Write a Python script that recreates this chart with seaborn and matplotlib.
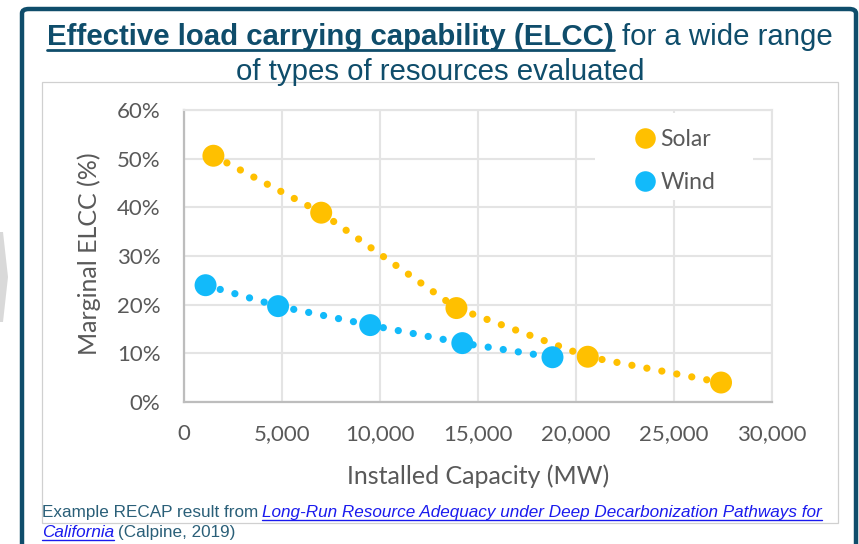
import matplotlib
matplotlib.use("Agg")
import matplotlib.pyplot as plt
import seaborn as sns
import pandas as pd
from matplotlib.patches import Rectangle, FancyBboxPatch, Polygon
from matplotlib.lines import Line2D

# ---------------- data ----------------
series_names = ["Solar", "Wind"]
solar_mw = [1500, 7000, 13900, 20600, 27400]
solar_elcc = [0.506, 0.389, 0.193, 0.093, 0.040]
wind_mw = [1100, 4800, 9500, 14200, 18800]
wind_elcc = [0.240, 0.197, 0.158, 0.121, 0.092]
x_ticks = [0, 5000, 10000, 15000, 20000, 25000, 30000]
y_ticks = [0.0, 0.1, 0.2, 0.3, 0.4, 0.5, 0.6]

title_bold = "Effective load carrying capability (ELCC)"
title_rest = "for a wide range"
title_line2 = "of types of resources evaluated"
x_label = "Installed Capacity (MW)"
y_label = "Marginal ELCC (%)"
foot_a = "Example RECAP result from"
foot_link1 = "Long-Run Resource Adequacy under Deep Decarbonization Pathways for"
foot_link2 = "California"
foot_b = "(Calpine, 2019)"

colors = {"Solar": "#FFC000", "Wind": "#12BAFA"}
TEAL = "#0f4d6b"
GREY = "#595959"

df = pd.DataFrame({
    "mw": solar_mw + wind_mw,
    "elcc": solar_elcc + wind_elcc,
    "type": ["Solar"] * len(solar_mw) + ["Wind"] * len(wind_mw),
})

W, H = 859, 544
sns.set_style("white")
plt.rcParams["font.family"] = ["Lato", "DejaVu Sans"]

fig = plt.figure(figsize=(W / 100, H / 100), dpi=100)


def fx(x):
    return x / W


def fy(y):
    return 1 - y / H


# ---------------- slide decoration ----------------
fig.add_artist(Polygon([(fx(0), fy(232)), (fx(3), fy(232)), (fx(8), fy(277)),
                        (fx(3), fy(322)), (fx(0), fy(322))],
                       closed=True, facecolor="#d9d9d9", edgecolor="none",
                       transform=fig.transFigure))
fig.add_artist(FancyBboxPatch((fx(22), fy(600)), fx(856) - fx(22), fy(9) - fy(600),
                              boxstyle="round,pad=0,rounding_size=0.008",
                              facecolor="none", edgecolor=TEAL, lw=3.2,
                              transform=fig.transFigure))
fig.add_artist(Rectangle((fx(42), fy(523)), fx(838) - fx(42), fy(82) - fy(523),
                         facecolor="none", edgecolor="#d0d0d0", lw=0.9,
                         transform=fig.transFigure))

# ---------------- chart ----------------
ax = fig.add_axes([fx(184), fy(402), (772 - 184) / W, (402 - 110) / H])
sns.lineplot(data=df, x="mw", y="elcc", hue="type", palette=colors, sort=False,
             legend=False, lw=5.2, ax=ax, zorder=2)
for ln in ax.lines:
    ln.set_linestyle((0, (0.01, 2.1)))
    ln.set_dash_capstyle("round")
sns.scatterplot(data=df, x="mw", y="elcc", hue="type", palette=colors, s=250,
                linewidth=0, legend=False, ax=ax, zorder=3)

ax.set_xlim(x_ticks[0], x_ticks[-1])
ax.set_ylim(y_ticks[0], y_ticks[-1])
ax.set_xticks(x_ticks)
ax.set_xticklabels([f"{v:,}" for v in x_ticks])
ax.set_yticks(y_ticks)
ax.set_yticklabels([f"{round(v * 100)}%" for v in y_ticks])
ax.tick_params(length=0, labelsize=16, labelcolor=GREY)
ax.tick_params(axis="x", pad=16)
ax.tick_params(axis="y", pad=17)
ax.grid(True, color="#e4e4e4", lw=1.5)
ax.set_axisbelow(True)
for side in ["top", "right"]:
    ax.spines[side].set_color("#e4e4e4")
    ax.spines[side].set_linewidth(1.5)
for side in ["left", "bottom"]:
    ax.spines[side].set_color("#bdbdbd")
    ax.spines[side].set_linewidth(1.6)

ax.set_xlabel(x_label, fontsize=18, color=GREY)
ax.set_ylabel(y_label, fontsize=18, color=GREY)
ax.xaxis.set_label_coords(0.5, (402 - 464) / 292)
ax.yaxis.set_label_coords((101 - 184) / 588, (402 - 254) / 292)

# legend with white box
ax.add_patch(Rectangle(((595 - 184) / 588, (402 - 200) / 292), (753 - 595) / 588,
                       (200 - 113) / 292, transform=ax.transAxes,
                       facecolor="white", edgecolor="none", zorder=1.5))
handles = [Line2D([], [], ls="", marker="o", ms=14.8, mew=0, color=colors[n])
           for n in series_names]
ax.legend(handles, series_names, loc="upper left",
          bbox_to_anchor=((634 - 184) / 588, (402 - 129) / 292),
          frameon=False, borderpad=0, borderaxespad=0, handlelength=1.0,
          handletextpad=0.15, labelspacing=0.95, fontsize=16.5, labelcolor=GREY)

# ---------------- rich text helper ----------------
renderer = fig.canvas.get_renderer()


def rich_line(pieces, x, y, align="left", ul_off=4, ul_lw=1.5):
    placed = []
    cur = x
    for s, kw, ul, gap in pieces:
        t = fig.text(fx(cur), fy(y), s, va="baseline", ha="left", **kw)
        w = t.get_window_extent(renderer=renderer).width
        placed.append((t, cur, w, ul, kw))
        cur += w + gap
    total = cur - x
    shift = -total / 2 if align == "center" else 0
    for t, x0, w, ul, kw in placed:
        t.set_x(fx(x0 + shift))
        if ul:
            fig.add_artist(Line2D([fx(x0 + shift), fx(x0 + shift + w)],
                                  [fy(y + ul_off)] * 2, color=kw.get("color", "k"),
                                  lw=ul_lw, transform=fig.transFigure))


NARROW = ["Liberation Sans Narrow", "Liberation Sans", "DejaVu Sans"]
tkw_b = dict(fontsize=21.2, fontweight="bold", color=TEAL, family=NARROW)
tkw_r = dict(fontsize=21.2, color=TEAL, family=NARROW)
rich_line([(title_bold, tkw_b, True, 9), (title_rest, tkw_r, False, 0)],
          440, 45, align="center", ul_off=4.5, ul_lw=2)
rich_line([(title_line2, tkw_r, False, 0)], 440, 80, align="center")

fkw = dict(fontsize=12.3, color="#2a5f78", family=NARROW)
lkw = dict(fontsize=12.3, color="#1a1aee", style="italic", family=NARROW)
rich_line([(foot_a, fkw, False, 4), (foot_link1, lkw, True, 0)], 42, 517,
          ul_off=2.5, ul_lw=1)
rich_line([(foot_link2, lkw, True, 4), (foot_b, fkw, False, 0)], 42, 537,
          ul_off=2.5, ul_lw=1)

fig.savefig("out.png", dpi=100)
